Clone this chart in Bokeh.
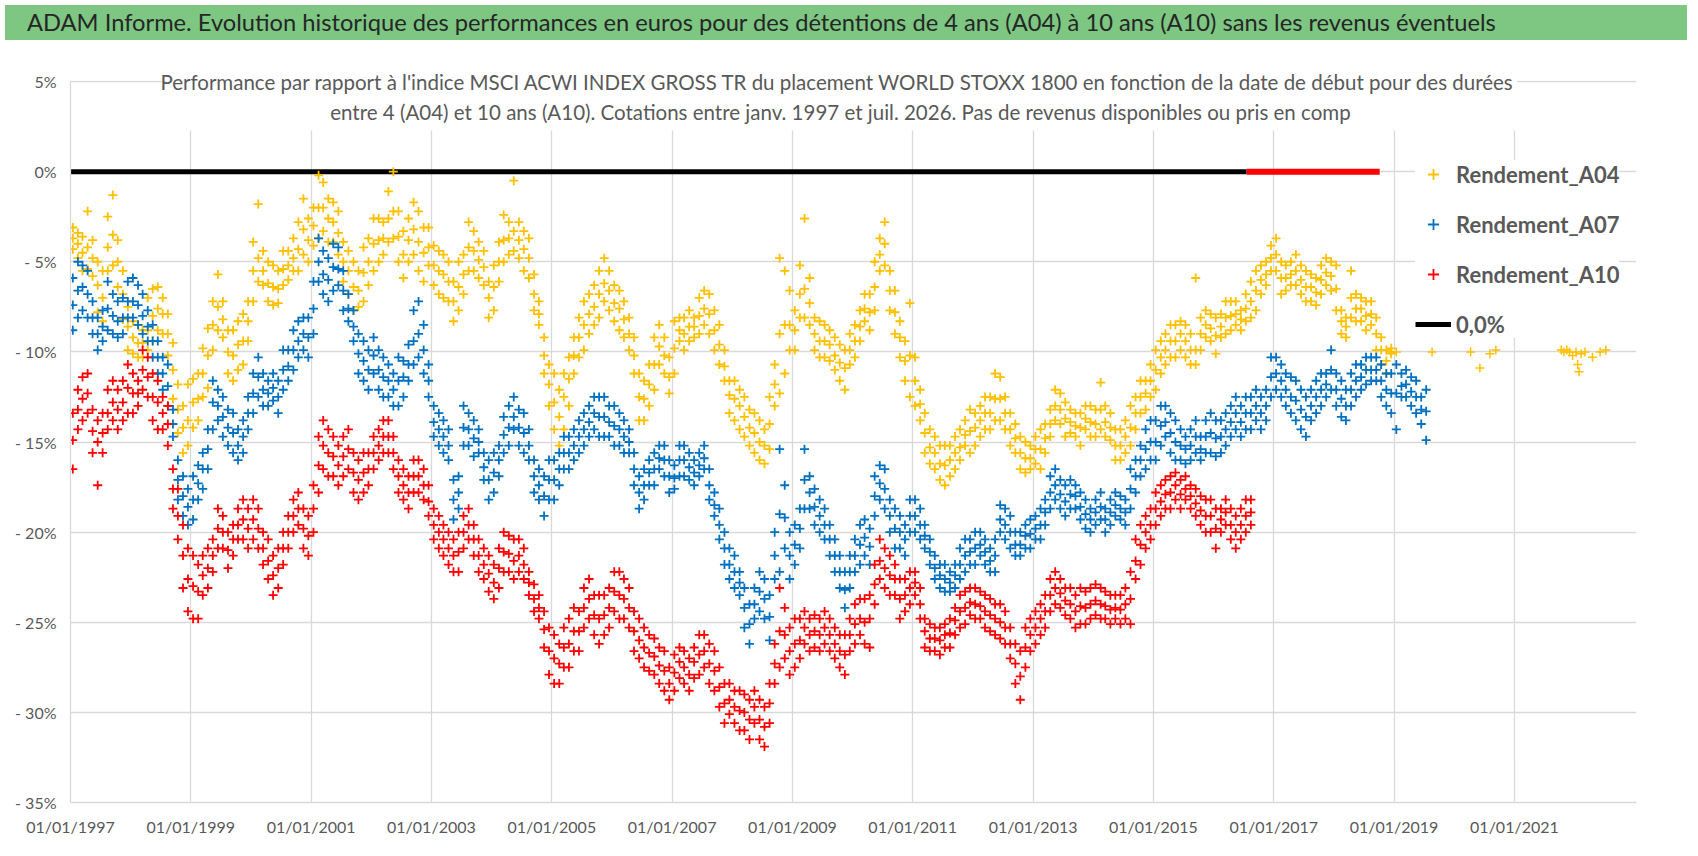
import pandas as pd
from bokeh.plotting import figure
from bokeh.models import (ColumnDataSource, Div, Label, Legend, LegendItem, FixedTicker,
                          DatetimeTickFormatter, Range1d, BoxAnnotation)
from bokeh.layouts import column
from bokeh.embed import file_html
from bokeh.resources import INLINE

TITLE = ("ADAM Informe. Evolution historique des performances en euros pour des détentions "
         "de 4 ans (A04) à 10 ans (A10) sans les revenus éventuels")
SUBTITLE_1 = ("Performance par rapport à l'indice MSCI ACWI INDEX GROSS TR  du placement WORLD STOXX 1800 "
              "en fonction de la date de début pour des durées")
SUBTITLE_2 = ("entre 4 (A04) et 10 ans (A10). Cotations entre janv. 1997 et juil. 2026. "
              "Pas de revenus disponibles ou pris en comp")

series_names = ["Rendement_A04", "Rendement_A07", "Rendement_A10"]
series_colors = ["#FFC000", "#0070C0", "#FF0000"]
zero_label = "0,0%"

# monthly readings from janv. 1997 : top, middle and bottom of each cloud of points (%)
a04_hi = [
    -3.1, -3.4, -3.6, -2.2, -3.8, -5.0, -5.5, -2.5, -1.3, -3.8, -5.5, -7.5,
    -8.3, -8.5, -8.8, -7.0, -6.5, -6.4, -7.0, -7.9, -9.5, -11.8, -13.0, -11.8,
    -11.5, -11.2, -9.8, -8.7, -7.2, -5.7, -7.2, -8.8, -8.8, -8.3, -7.9, -7.2,
    -3.9, -1.8, -4.4, -5.0, -5.2, -5.5, -4.4, -4.4, -3.7, -2.8, -1.5, -2.6,
    -2.0, -0.2, -0.6, -1.5, -1.7, -2.2, -3.9, -4.4, -5.0, -5.5, -4.2, -3.7,
    -2.6, -2.6, -2.8, -1.1, 0.0, -2.2, -3.3, -2.6, -1.7, -2.2, -3.1, -3.1,
    -4.1, -4.4, -4.6, -5.0, -6.1, -5.0, -4.6, -2.8, -3.3, -3.9, -4.4, -6.1,
    -5.2, -3.9, -2.4, -2.8, -0.5, -2.8, -3.3, -3.7, -5.7, -7.2, -9.2, -10.7,
    -11.2, -12.1, -11.2, -10.3, -9.2, -8.1, -7.2, -6.8, -6.3, -5.5, -4.8, -5.5,
    -6.3, -6.6, -7.2, -8.1, -9.2, -11.2, -11.6, -10.7, -9.2, -8.5, -9.2, -10.3,
    -8.3, -8.1, -8.1, -7.7, -8.1, -7.0, -6.6, -6.8, -7.7, -8.5, -9.9, -11.6,
    -11.6, -12.1, -12.5, -13.2, -13.4, -13.8, -14.3, -12.5, -10.7, -4.8, -5.5, -6.6,
    -7.7, -5.2, -2.6, -5.9, -8.1, -8.3, -8.5, -8.8, -9.2, -9.6, -9.9, -9.0,
    -8.5, -7.7, -6.8, -6.8, -5.0, -3.7, -2.8, -5.5, -6.6, -8.3, -9.4, -7.3,
    -10.3, -12.1, -13.4, -14.3, -14.7, -15.2, -15.2, -15.2, -14.7, -14.3, -13.8, -13.2,
    -13.4, -13.0, -12.5, -12.5, -11.2, -11.4, -12.5, -13.4, -14.0, -14.7, -15.0, -15.2,
    -14.7, -14.3, -14.0, -13.2, -12.1, -12.3, -12.8, -13.2, -13.4, -13.4, -13.0, -13.0,
    -13.2, -11.7, -13.0, -13.4, -14.3, -14.3, -13.8, -13.0, -12.5, -11.6, -11.6, -10.7,
    -9.9, -9.4, -9.0, -8.5, -8.5, -8.3, -8.5, -9.0, -5.9, -8.1, -7.7, -7.9,
    -8.1, -7.9, -7.2, -7.2, -7.2, -7.7, -6.8, -6.1, -5.5, -5.2, -5.0, -4.1,
    -3.7, -5.0, -5.2, -5.0, -4.6, -5.2, -5.5, -5.7, -5.9, -5.2, -4.8, -5.0,
    -5.2, -7.7, -8.1, -5.5, -6.8, -7.0, -7.2, -7.2, -8.1, -9.2, -9.9, -9.8,
]
a04_mid = [
    -3.7, -4.0, -4.5, -4.2, -4.8, -6.3, -7.0, -4.2, -3.5, -5.0, -6.8, -8.6,
    -9.2, -9.5, -9.5, -8.8, -8.0, -7.6, -7.9, -9.0, -11.0, -13.2, -14.2, -13.8,
    -12.8, -12.6, -11.2, -10.2, -8.5, -7.5, -8.2, -10.0, -10.2, -9.6, -9.4, -8.3,
    -5.5, -4.8, -5.5, -6.2, -6.4, -6.5, -5.4, -5.2, -4.8, -4.3, -3.2, -3.8,
    -3.0, -2.0, -2.0, -2.6, -2.8, -3.4, -5.0, -5.5, -6.4, -6.6, -5.6, -5.0,
    -4.0, -3.8, -3.7, -2.6, -2.2, -3.6, -4.6, -3.8, -3.2, -3.9, -4.5, -4.2,
    -5.2, -5.5, -5.7, -6.1, -7.2, -6.4, -5.7, -4.2, -4.4, -4.9, -5.3, -7.0,
    -6.4, -5.0, -3.8, -3.7, -3.3, -3.8, -4.3, -4.8, -6.8, -7.9, -10.2, -11.8,
    -12.8, -13.6, -12.5, -11.5, -10.2, -9.2, -8.5, -7.9, -7.5, -6.8, -6.2, -6.6,
    -7.3, -7.6, -8.2, -9.0, -10.2, -12.5, -12.6, -11.8, -10.7, -9.7, -10.2, -11.4,
    -9.8, -8.8, -9.0, -8.6, -8.6, -8.0, -7.6, -7.9, -8.8, -9.6, -10.8, -12.4,
    -12.6, -13.0, -13.6, -14.2, -14.5, -15.0, -15.2, -14.0, -11.8, -9.0, -8.5, -8.5,
    -8.8, -6.8, -6.5, -7.3, -9.0, -9.4, -9.4, -9.6, -10.2, -10.6, -10.9, -9.9,
    -9.4, -8.6, -7.6, -7.8, -6.4, -4.6, -4.0, -6.6, -7.8, -9.2, -10.5, -10.2,
    -11.6, -12.9, -14.5, -15.3, -15.6, -16.2, -16.3, -16.0, -15.6, -15.3, -14.6, -14.4,
    -14.2, -13.8, -13.4, -13.4, -12.6, -12.6, -13.4, -14.3, -14.8, -15.6, -15.9, -15.9,
    -15.4, -15.4, -14.8, -14.0, -13.0, -13.2, -13.7, -13.9, -14.1, -14.2, -13.7, -13.9,
    -14.0, -13.2, -13.9, -14.2, -15.2, -15.2, -14.7, -14.2, -13.4, -12.5, -12.3, -11.6,
    -11.0, -10.3, -9.9, -9.4, -9.4, -9.0, -9.4, -9.9, -9.9, -9.0, -8.5, -8.7,
    -9.1, -8.6, -8.1, -8.0, -7.9, -8.2, -7.6, -7.2, -6.6, -6.0, -5.7, -4.8,
    -4.6, -5.9, -5.9, -5.7, -5.5, -6.0, -6.4, -6.4, -6.7, -6.0, -5.6, -5.8,
    -6.5, -8.3, -8.6, -7.0, -7.6, -7.6, -8.0, -7.9, -9.0, -9.9, -10.5, -10.0,
]
a04_lo = [
    -4.3, -4.8, -5.5, -5.4, -5.8, -7.8, -8.3, -5.5, -5.2, -6.4, -8.2, -9.9,
    -10.1, -10.3, -10.3, -9.9, -9.4, -8.8, -9.0, -10.2, -12.6, -14.5, -15.6, -15.2,
    -14.2, -13.8, -12.5, -12.0, -9.9, -8.8, -9.2, -11.2, -11.6, -11.0, -10.7, -9.4,
    -7.2, -6.1, -6.3, -7.2, -7.4, -7.3, -6.3, -6.0, -5.5, -5.5, -4.6, -5.0,
    -4.1, -3.7, -3.3, -3.9, -3.9, -4.6, -6.1, -6.8, -7.7, -7.5, -7.2, -6.3,
    -5.5, -5.0, -4.6, -3.9, -3.7, -5.0, -5.9, -5.0, -4.6, -5.5, -6.1, -5.2,
    -6.3, -6.8, -7.0, -7.2, -8.3, -7.7, -6.8, -5.5, -5.5, -5.9, -6.3, -8.1,
    -7.7, -6.1, -5.0, -4.6, -4.4, -4.8, -5.5, -5.9, -7.7, -8.5, -11.2, -13.0,
    -14.3, -15.2, -14.3, -13.0, -11.2, -10.3, -9.9, -9.0, -8.5, -8.1, -7.2, -7.7,
    -8.3, -8.8, -9.2, -9.9, -11.2, -13.8, -13.8, -13.0, -12.1, -10.7, -11.2, -12.3,
    -11.2, -9.4, -9.9, -9.4, -9.2, -9.0, -8.5, -9.0, -9.9, -10.7, -11.6, -13.4,
    -13.8, -14.3, -14.7, -15.2, -15.6, -16.0, -16.2, -15.4, -13.0, -12.3, -11.2, -9.9,
    -9.9, -8.1, -8.1, -8.5, -9.9, -10.3, -10.3, -10.5, -11.0, -11.6, -12.1, -10.7,
    -10.3, -9.4, -8.3, -8.8, -7.7, -5.5, -5.2, -7.7, -9.0, -10.3, -11.6, -12.5,
    -13.0, -13.8, -15.6, -16.2, -16.5, -17.1, -17.4, -16.9, -16.5, -16.0, -15.2, -15.6,
    -15.2, -14.7, -14.3, -14.3, -13.8, -13.8, -14.3, -15.2, -15.6, -16.5, -16.7, -16.5,
    -16.2, -16.5, -15.6, -14.7, -13.8, -14.0, -14.7, -14.5, -14.7, -15.2, -14.3, -14.7,
    -14.7, -14.3, -14.7, -14.9, -16.0, -16.0, -15.6, -15.2, -14.3, -13.4, -13.2, -12.5,
    -12.1, -11.2, -10.7, -10.3, -10.3, -9.9, -10.3, -10.7, -10.7, -9.9, -9.2, -9.4,
    -10.1, -9.2, -9.0, -8.8, -8.5, -8.8, -8.3, -8.1, -7.7, -6.8, -6.3, -5.5,
    -5.5, -6.8, -6.6, -6.3, -6.3, -6.8, -7.2, -7.2, -7.4, -6.8, -6.3, -6.6,
    -7.7, -9.0, -9.2, -8.1, -8.3, -8.3, -8.8, -8.5, -9.9, -10.7, -11.2, -10.1,
]
# isolated A04 points after the dense period
a04_tail_dates = ["2019-01-15", "2019-08-20", "2020-04-10", "2020-06-05", "2020-08-05",
                  "2020-09-10", "2021-10-12", "2021-10-28", "2021-11-15", "2021-12-01",
                  "2021-12-20", "2022-01-10", "2022-01-20", "2022-01-28", "2022-02-10",
                  "2022-03-05", "2022-04-20", "2022-06-05", "2022-07-10"]
a04_tail_values = [-10.0, -10.0, -10.0, -10.9, -10.1, -9.9, -9.9, -10.0, -9.9, -10.0,
                   -10.2, -10.0, -10.7, -11.1, -10.1, -10.0, -10.3, -10.0, -9.9]

a07_hi = [
    -5.9, -5.0, -5.2, -5.5, -7.2, -8.1, -7.7, -6.1, -6.8, -7.2, -7.0, -6.1,
    -5.9, -6.3, -6.8, -7.7, -8.5, -9.4, -10.3, -10.7, -13.2, -16.0, -16.9, -17.6,
    -16.9, -16.3, -15.6, -14.3, -11.6, -12.1, -12.5, -13.2, -13.4, -14.3, -13.8, -12.5,
    -11.2, -10.3, -11.2, -11.6, -11.2, -11.6, -9.9, -9.9, -8.8, -8.3, -8.1, -8.1,
    -6.1, -3.7, -4.4, -4.8, -4.0, -4.2, -5.5, -6.8, -7.7, -9.0, -9.4, -9.9,
    -9.2, -9.9, -10.3, -10.7, -11.2, -10.3, -10.5, -9.6, -7.7, -7.2, -8.5, -10.7,
    -13.0, -13.4, -13.8, -14.3, -17.1, -16.9, -13.0, -13.4, -13.8, -14.3, -15.6, -16.0,
    -15.6, -15.2, -13.6, -13.0, -12.5, -13.2, -13.4, -14.3, -16.0, -16.5, -16.9, -16.0,
    -16.0, -15.6, -14.7, -14.7, -14.3, -13.8, -13.4, -13.0, -12.5, -12.5, -12.5, -13.0,
    -13.0, -13.4, -13.8, -14.3, -15.6, -16.9, -16.5, -16.0, -15.6, -15.2, -15.2, -16.0,
    -16.3, -15.2, -15.2, -15.6, -16.0, -15.6, -15.2, -16.5, -17.8, -18.7, -20.0, -20.9,
    -21.3, -22.2, -23.1, -24.0, -23.1, -22.2, -22.6, -23.5, -20.0, -15.4, -17.4, -20.0,
    -19.6, -18.7, -15.4, -16.9, -17.6, -18.2, -18.7, -19.6, -20.4, -21.3, -22.2, -21.3,
    -20.4, -19.6, -19.3, -19.8, -16.9, -16.3, -16.5, -18.2, -18.7, -19.1, -19.6, -18.2,
    -18.2, -18.7, -19.6, -20.4, -21.3, -21.8, -21.8, -22.2, -21.8, -20.9, -20.4, -20.4,
    -20.0, -20.0, -20.4, -20.9, -20.4, -18.5, -18.7, -19.1, -20.0, -20.0, -19.6, -19.3,
    -19.1, -18.7, -18.2, -16.9, -16.5, -17.1, -17.4, -17.1, -17.4, -17.8, -18.2, -18.7,
    -18.2, -17.8, -18.7, -18.2, -17.8, -18.0, -18.2, -16.5, -16.0, -15.2, -14.3, -13.8,
    -13.8, -13.0, -13.0, -13.4, -13.8, -14.3, -14.7, -14.3, -13.8, -14.7, -13.8, -13.4,
    -13.8, -13.8, -13.4, -13.0, -12.5, -13.0, -12.5, -12.5, -12.1, -12.5, -12.1, -10.3,
    -10.3, -10.7, -11.2, -11.4, -11.6, -12.1, -12.5, -12.1, -11.6, -11.2, -11.2, -9.9,
    -11.2, -11.6, -12.1, -11.2, -10.7, -10.7, -10.3, -10.3, -10.3, -10.7, -11.2, -11.2,
    -10.7, -11.2, -11.0, -11.4, -11.6, -12.5, -12.1,
]
a07_mid = [
    -7.4, -6.6, -6.4, -6.8, -8.1, -9.0, -8.6, -7.6, -8.0, -8.3, -8.1, -7.2,
    -7.2, -7.4, -8.0, -8.6, -9.4, -10.3, -11.2, -11.9, -14.0, -17.1, -18.0, -18.6,
    -18.2, -17.3, -16.5, -15.4, -12.8, -13.0, -13.6, -14.2, -14.5, -15.2, -14.7, -13.4,
    -12.3, -11.4, -12.1, -12.3, -12.0, -12.5, -11.0, -10.8, -9.9, -9.4, -9.0, -9.2,
    -7.6, -5.0, -5.7, -6.0, -5.3, -5.4, -6.6, -7.6, -8.6, -10.1, -10.5, -11.0,
    -10.2, -11.0, -11.4, -11.6, -12.1, -11.6, -11.4, -10.7, -9.4, -9.0, -9.9, -11.6,
    -13.9, -14.3, -14.7, -15.2, -18.2, -17.8, -14.2, -14.3, -14.8, -15.0, -16.4, -17.1,
    -16.7, -16.0, -14.6, -14.2, -13.6, -14.2, -14.5, -15.2, -16.9, -17.4, -18.0, -17.1,
    -17.1, -16.5, -15.6, -15.6, -15.2, -14.7, -14.3, -13.9, -13.4, -13.6, -13.6, -13.9,
    -14.1, -14.3, -14.7, -15.0, -16.5, -17.8, -17.4, -16.7, -16.5, -15.9, -16.0, -16.9,
    -17.0, -16.0, -16.0, -16.4, -16.7, -16.3, -15.9, -17.4, -18.5, -19.6, -20.9, -21.8,
    -22.2, -22.8, -24.2, -25.1, -24.0, -23.3, -23.7, -24.7, -21.3, -19.0, -19.2, -21.3,
    -20.7, -19.8, -17.1, -17.8, -18.6, -19.1, -19.6, -20.4, -21.3, -22.2, -23.2, -22.2,
    -21.3, -20.7, -20.3, -20.8, -18.0, -17.3, -17.6, -19.1, -19.8, -20.0, -20.4, -19.1,
    -19.1, -19.6, -20.2, -21.1, -22.0, -22.4, -22.6, -22.8, -22.4, -21.8, -21.3, -21.1,
    -20.9, -20.7, -21.1, -21.6, -21.3, -19.3, -19.6, -20.0, -20.7, -20.7, -20.2, -20.1,
    -19.8, -19.6, -18.9, -17.8, -17.4, -17.9, -18.3, -17.9, -18.0, -18.6, -19.0, -19.3,
    -18.9, -18.6, -19.3, -18.9, -18.5, -18.7, -18.9, -17.6, -16.9, -16.0, -15.4, -15.0,
    -15.0, -14.1, -13.9, -14.5, -15.0, -15.2, -15.4, -15.2, -14.7, -15.4, -14.7, -14.5,
    -14.8, -14.7, -14.3, -13.9, -13.4, -13.9, -13.4, -13.4, -13.0, -13.4, -13.0, -11.4,
    -11.2, -11.6, -12.1, -12.5, -12.7, -13.2, -13.6, -13.0, -12.5, -12.1, -11.8, -11.0,
    -12.1, -12.6, -13.0, -12.1, -11.6, -11.4, -11.0, -11.0, -11.0, -11.6, -12.1, -12.3,
    -12.3, -11.9, -11.8, -12.2, -12.5, -13.2, -13.3,
]
a07_lo = [
    -8.8, -8.1, -7.7, -8.1, -9.0, -9.9, -9.4, -8.8, -9.0, -9.2, -9.0, -8.1,
    -8.1, -8.5, -9.0, -9.4, -10.3, -11.2, -12.1, -13.0, -14.7, -18.2, -19.1, -19.6,
    -19.3, -18.2, -17.6, -16.5, -14.3, -13.8, -14.7, -15.2, -15.6, -16.0, -15.6, -14.3,
    -13.4, -12.5, -13.0, -13.0, -12.7, -13.4, -12.1, -11.6, -11.0, -10.3, -9.9, -10.3,
    -9.0, -6.1, -6.8, -7.2, -6.6, -6.3, -7.7, -8.3, -9.4, -11.2, -11.6, -12.1,
    -11.2, -12.1, -12.5, -12.5, -13.0, -13.0, -12.5, -11.6, -10.7, -10.3, -11.2, -12.5,
    -14.7, -15.2, -15.6, -16.0, -19.3, -18.7, -15.2, -15.2, -15.8, -15.6, -17.1, -18.2,
    -17.8, -16.9, -15.6, -15.2, -14.3, -15.2, -15.6, -16.0, -17.8, -18.2, -19.1, -18.2,
    -18.2, -17.4, -16.5, -16.5, -16.0, -15.6, -15.2, -14.7, -14.3, -14.7, -14.7, -14.7,
    -15.2, -15.2, -15.6, -15.6, -17.4, -18.7, -18.2, -17.4, -17.4, -16.5, -16.9, -17.8,
    -17.6, -16.9, -16.9, -17.1, -17.4, -16.9, -16.5, -18.2, -19.1, -20.4, -21.8, -22.6,
    -23.1, -23.5, -25.3, -26.2, -24.8, -24.4, -24.8, -26.0, -22.6, -22.2, -20.9, -22.6,
    -21.8, -20.9, -18.7, -18.7, -19.6, -20.0, -20.4, -21.3, -22.2, -23.1, -24.2, -23.1,
    -22.2, -21.8, -21.3, -21.8, -19.1, -18.2, -18.7, -20.0, -20.9, -20.9, -21.3, -20.0,
    -20.0, -20.4, -20.9, -21.8, -22.6, -23.1, -23.3, -23.3, -23.1, -22.6, -22.2, -21.8,
    -21.8, -21.3, -21.8, -22.2, -22.2, -20.0, -20.4, -20.9, -21.3, -21.3, -20.9, -20.9,
    -20.4, -20.4, -19.6, -18.7, -18.2, -18.7, -19.1, -18.7, -18.7, -19.3, -19.8, -20.0,
    -19.6, -19.3, -20.0, -19.6, -19.1, -19.3, -19.6, -18.7, -17.8, -16.9, -16.5, -16.0,
    -16.0, -15.2, -14.7, -15.6, -16.0, -16.0, -16.2, -16.0, -15.6, -16.0, -15.6, -15.6,
    -15.8, -15.6, -15.2, -14.7, -14.3, -14.7, -14.3, -14.3, -13.8, -14.3, -13.8, -12.5,
    -12.1, -12.5, -13.0, -13.4, -13.8, -14.3, -14.7, -13.8, -13.4, -13.0, -12.5, -12.1,
    -13.0, -13.6, -13.8, -13.0, -12.5, -12.1, -11.8, -11.6, -11.6, -12.5, -13.0, -13.4,
    -14.3, -12.5, -12.5, -13.0, -13.4, -14.0, -14.9,
]

a10_hi = [
    -13.4, -12.1, -11.4, -11.2, -13.2, -13.8, -13.4, -12.1, -11.6, -12.1, -11.6, -10.7,
    -11.2, -11.6, -9.9, -10.3, -11.2, -11.6, -12.5, -13.0, -16.5, -17.6, -19.6, -20.9,
    -21.3, -21.8, -21.3, -20.9, -20.4, -18.7, -19.1, -20.0, -19.6, -18.7, -18.2, -18.7,
    -18.2, -18.7, -20.0, -20.4, -21.3, -20.9, -20.0, -19.1, -18.2, -17.8, -18.7, -19.1,
    -17.4, -14.7, -13.8, -14.3, -14.7, -15.2, -14.7, -14.3, -15.6, -16.0, -15.6, -15.6,
    -14.7, -14.3, -13.8, -13.8, -14.7, -16.0, -16.5, -16.9, -16.0, -16.0, -16.5, -17.4,
    -18.7, -19.1, -19.6, -20.0, -20.4, -20.0, -19.1, -18.7, -19.6, -20.4, -20.9, -21.3,
    -21.8, -20.9, -20.0, -20.2, -20.4, -20.4, -20.9, -22.2, -22.9, -23.5, -24.4, -25.3,
    -25.7, -26.2, -25.3, -24.8, -24.2, -24.4, -23.1, -22.6, -23.5, -23.5, -23.5, -23.1,
    -22.2, -22.2, -22.6, -23.1, -24.4, -24.8, -25.3, -25.7, -25.9, -26.4, -26.6, -27.5,
    -26.8, -26.4, -26.6, -27.0, -26.4, -25.7, -25.7, -26.2, -26.6, -27.5, -28.4, -28.4,
    -28.8, -28.8, -29.0, -29.3, -28.8, -29.3, -29.7, -28.4, -26.2, -23.1, -24.2, -25.3,
    -24.8, -24.8, -24.4, -24.8, -24.6, -24.8, -24.4, -24.8, -25.3, -25.7, -25.7, -24.8,
    -24.0, -23.7, -23.7, -23.5, -21.8, -20.4, -20.9, -21.3, -21.8, -22.6, -22.6, -22.2,
    -22.2, -23.1, -24.8, -25.1, -25.3, -25.3, -25.1, -24.8, -24.2, -23.5, -23.3, -23.1,
    -23.1, -23.3, -23.5, -23.7, -24.0, -24.0, -24.4, -25.3, -26.2, -26.6, -25.3, -24.8,
    -24.4, -24.0, -23.5, -22.6, -22.2, -22.6, -23.1, -23.1, -23.5, -23.1, -23.3, -23.1,
    -22.9, -23.1, -23.3, -23.5, -23.5, -23.5, -23.1, -22.2, -20.4, -19.6, -19.1, -18.7,
    -17.8, -17.4, -17.1, -16.9, -16.7, -17.1, -16.9, -17.4, -17.6, -18.0, -18.2, -18.2,
    -18.7, -18.7, -18.2, -18.7, -19.1, -18.7, -18.2, -18.2,
]
a10_mid = [
    -14.9, -13.2, -12.6, -12.3, -14.4, -15.0, -14.5, -13.4, -12.8, -13.2, -12.8, -12.0,
    -12.3, -12.3, -11.0, -11.4, -12.5, -12.8, -13.4, -14.0, -17.6, -19.1, -21.3, -22.6,
    -23.0, -23.3, -22.4, -22.0, -21.3, -19.8, -20.0, -21.0, -20.4, -19.6, -19.3, -19.8,
    -19.3, -19.8, -20.9, -21.6, -22.4, -22.0, -20.9, -20.0, -19.1, -18.7, -19.8, -20.2,
    -18.7, -16.3, -15.2, -15.6, -15.8, -16.3, -15.8, -15.4, -16.7, -17.1, -16.7, -16.5,
    -15.6, -15.2, -14.7, -14.7, -15.6, -16.9, -17.4, -17.8, -16.9, -16.9, -17.4, -18.3,
    -19.6, -20.0, -20.4, -20.9, -21.3, -21.1, -20.0, -19.6, -20.4, -21.3, -21.8, -22.3,
    -22.8, -22.0, -21.1, -21.2, -21.6, -21.3, -21.8, -22.8, -23.7, -24.2, -25.4, -26.6,
    -27.0, -27.3, -26.4, -26.2, -25.5, -25.5, -24.2, -23.7, -24.6, -24.8, -24.6, -24.2,
    -23.3, -23.5, -23.7, -24.2, -25.5, -26.0, -26.4, -26.7, -26.9, -27.4, -27.7, -28.4,
    -27.8, -27.2, -27.5, -27.9, -27.2, -26.8, -26.6, -27.3, -27.7, -28.6, -29.5, -29.3,
    -29.7, -29.9, -30.0, -30.4, -29.7, -30.4, -30.8, -29.5, -27.3, -25.5, -25.7, -26.6,
    -26.2, -26.0, -25.3, -25.7, -25.5, -25.7, -25.3, -25.7, -26.2, -26.6, -26.8, -25.7,
    -25.1, -24.8, -25.0, -24.8, -22.9, -21.6, -22.0, -22.4, -22.6, -23.7, -23.5, -23.1,
    -22.8, -24.0, -25.5, -25.9, -25.9, -26.0, -25.7, -25.6, -24.9, -24.4, -24.2, -23.9,
    -24.0, -24.1, -24.4, -24.6, -24.8, -25.0, -25.3, -26.2, -27.3, -28.0, -26.4, -25.7,
    -25.3, -24.8, -24.4, -23.5, -23.1, -23.4, -23.8, -24.0, -24.4, -24.1, -24.2, -24.0,
    -23.8, -24.0, -24.1, -24.3, -24.2, -24.3, -24.0, -23.7, -21.6, -20.7, -20.0, -19.6,
    -18.7, -18.3, -17.9, -17.8, -17.4, -17.9, -17.6, -18.0, -18.4, -18.8, -19.1, -19.1,
    -19.8, -19.3, -18.9, -19.6, -20.0, -19.6, -19.1, -18.9,
]
a10_lo = [
    -16.5, -14.3, -13.8, -13.4, -15.6, -17.4, -15.6, -14.3, -13.8, -14.3, -13.8, -13.4,
    -13.4, -13.0, -12.1, -12.5, -13.8, -14.3, -14.3, -15.2, -18.7, -20.4, -23.1, -24.4,
    -24.8, -24.8, -23.5, -23.1, -22.2, -20.9, -20.9, -22.0, -21.3, -20.4, -20.4, -20.9,
    -20.4, -20.9, -21.8, -22.6, -23.5, -23.1, -21.8, -20.9, -20.0, -19.6, -20.9, -21.3,
    -20.0, -17.8, -16.5, -16.9, -16.9, -17.4, -16.9, -16.5, -17.8, -18.2, -17.8, -17.4,
    -16.5, -16.0, -15.6, -15.6, -16.5, -17.8, -18.2, -18.7, -17.8, -17.8, -18.2, -19.1,
    -20.4, -20.9, -21.3, -21.8, -22.2, -22.2, -20.9, -20.4, -21.3, -22.2, -22.6, -23.3,
    -23.7, -23.1, -22.2, -22.2, -22.6, -22.2, -22.6, -23.5, -24.4, -24.8, -26.4, -27.9,
    -28.4, -28.4, -27.5, -27.5, -26.6, -26.6, -25.3, -24.8, -25.7, -26.2, -25.7, -25.3,
    -24.4, -24.8, -24.8, -25.3, -26.6, -27.0, -27.5, -27.7, -27.9, -28.4, -28.8, -29.3,
    -28.8, -28.1, -28.4, -28.8, -28.1, -27.9, -27.5, -28.4, -28.8, -29.7, -30.6, -30.1,
    -30.6, -31.0, -31.0, -31.5, -30.6, -31.5, -31.9, -30.6, -28.4, -27.5, -27.0, -27.9,
    -27.5, -27.0, -26.2, -26.6, -26.4, -26.6, -26.2, -26.6, -27.0, -27.5, -27.9, -26.6,
    -26.2, -25.7, -26.2, -26.4, -24.0, -22.6, -23.1, -23.5, -23.5, -24.8, -24.4, -24.0,
    -23.5, -24.8, -26.4, -26.6, -26.6, -26.8, -26.4, -26.4, -25.7, -25.3, -25.1, -24.6,
    -24.8, -24.8, -25.3, -25.5, -25.7, -25.9, -26.2, -27.0, -28.4, -29.3, -27.5, -26.6,
    -26.2, -25.7, -25.3, -24.4, -24.0, -24.2, -24.6, -24.8, -25.3, -25.1, -25.1, -24.8,
    -24.6, -24.8, -24.8, -25.1, -24.8, -25.1, -24.8, -25.1, -22.6, -21.8, -20.9, -20.4,
    -19.6, -19.1, -18.7, -18.7, -18.2, -18.7, -18.2, -18.7, -19.1, -19.6, -20.0, -20.0,
    -20.9, -20.0, -19.6, -20.4, -20.9, -20.4, -20.0, -19.6,
]

# 0 % reference line, and the A10 values at 0 after its last quotation
zero_dates = ["1997-01-01", "2016-07-20"]
zero_values = [0.0, 0.0]
a10_zero_dates = ["2016-07-20", "2018-10-06"]
a10_zero_values = [0.0, 0.0]

x_start, x_end = "1997-01-01", "2023-01-12"
x_ticks = ["1997-01-01", "1999-01-01", "2001-01-01", "2003-01-01", "2005-01-01", "2007-01-01",
           "2009-01-01", "2011-01-01", "2013-01-01", "2015-01-01", "2017-01-01", "2019-01-01",
           "2021-01-01"]
y_ticks = [5, 0, -5, -10, -15, -20, -25, -30, -35]
y_tick_labels = ["5%", "0%", "- 5%", "- 10%", "- 15%", "- 20%", "- 25%", "- 30%", "- 35%"]

FONT = "Lato"
GREY_TEXT = "#595959"
GRID = "#d9d9d9"


def ms(d):
    return pd.Timestamp(d).value / 1e6


def monthly(n):
    return pd.date_range("1997-01-01", periods=n, freq="MS") + pd.Timedelta(days=14)


# y range goes a little above 5 % so that the subtitle, which sits on the 5 % line, is not clipped
p = figure(width=1682, height=805, x_axis_type="datetime",
           x_range=Range1d(ms(x_start), ms(x_end)), y_range=Range1d(-35, 6),
           output_backend="svg", toolbar_location=None,
           min_border_left=70, min_border_right=46, min_border_top=18, min_border_bottom=48)
p.outline_line_color = None
p.background_fill_color = "white"
p.border_fill_color = "white"

# Axes
p.xaxis.ticker = FixedTicker(ticks=[ms(t) for t in x_ticks])
p.xaxis.formatter = DatetimeTickFormatter(years="%d/%m/%Y", months="%d/%m/%Y", days="%d/%m/%Y",
                                          hours="%d/%m/%Y")
p.yaxis.ticker = FixedTicker(ticks=y_ticks)
p.yaxis.major_label_overrides = dict(zip(y_ticks, y_tick_labels))
p.yaxis.bounds = (-35, 5)
for ax in (p.xaxis, p.yaxis):
    ax.update(axis_line_color=GRID, axis_line_width=1.3, major_tick_line_color=None,
              minor_tick_line_color=None, major_tick_out=0, major_tick_in=0,
              major_label_text_font=FONT, major_label_text_font_size="16px",
              major_label_text_color=GREY_TEXT)
p.xaxis.major_label_standoff = 14
p.yaxis.major_label_standoff = 14
p.xgrid.grid_line_color = GRID
p.ygrid.grid_line_color = GRID
p.xgrid.grid_line_width = 1.3
p.ygrid.grid_line_width = 1.3

# Data
zero_r = p.line(x=pd.to_datetime(zero_dates), y=zero_values, line_color="black", line_width=5)

renderers = []
for hi, mid, lo, color in ((a04_hi, a04_mid, a04_lo, series_colors[0]),
                           (a07_hi, a07_mid, a07_lo, series_colors[1]),
                           (a10_hi, a10_mid, a10_lo, series_colors[2])):
    dates = monthly(len(hi))
    src = ColumnDataSource(data=dict(x=list(dates) * 3, y=hi + mid + lo))
    r = p.scatter(x="x", y="y", source=src, marker="cross", size=9, line_width=1.8,
                  line_color=color)
    renderers.append(r)
    if color == series_colors[0]:
        p.scatter(x=pd.to_datetime(a04_tail_dates), y=a04_tail_values, marker="cross", size=9,
                  line_width=1.5, line_color=color)

p.line(x=pd.to_datetime(a10_zero_dates), y=a10_zero_values, line_color=series_colors[2], line_width=6)

# white strip above the 5 % line, then the subtitle on its white box
p.add_layout(BoxAnnotation(left=ms(x_start), right=ms(x_end), bottom=5.05, top=6,
                           fill_color="white", fill_alpha=1, line_color=None))
p.add_layout(BoxAnnotation(left=ms("1998-08-06"), right=ms("2021-01-18"), bottom=2.28, top=6,
                           fill_color="white", fill_alpha=1, line_color=None))
for txt, yy in ((SUBTITLE_1, 4.95), (SUBTITLE_2, 3.3)):
    p.add_layout(Label(x=ms("2009-10-19"), y=yy, text=txt, text_align="center",
                       text_baseline="middle", text_font=FONT, text_font_size="20.5px",
                       text_color=GREY_TEXT))

# Legend
items = [LegendItem(label=n, renderers=[r]) for n, r in zip(series_names, renderers)]
items.append(LegendItem(label=zero_label, renderers=[zero_r]))
legend = Legend(items=items, location=(1345, 464), orientation="vertical",
                glyph_width=36, glyph_height=28, label_height=28, label_standoff=5,
                spacing=22, padding=12, margin=0,
                label_text_font=FONT, label_text_font_size="22px", label_text_font_style="bold",
                label_text_color=GREY_TEXT,
                background_fill_color="white", background_fill_alpha=1, border_line_color=None)
p.add_layout(legend)

title = Div(text=TITLE, width=1682, height=35,
            styles={"background-color": "#7dc783", "font-family": FONT, "font-size": "23.7px",
                    "color": "#262626", "line-height": "35px", "text-indent": "22px",
                    "white-space": "nowrap", "overflow": "hidden"})

layout = column(title, p, spacing=0)
open("out.html", "w").write(file_html(layout, INLINE))
